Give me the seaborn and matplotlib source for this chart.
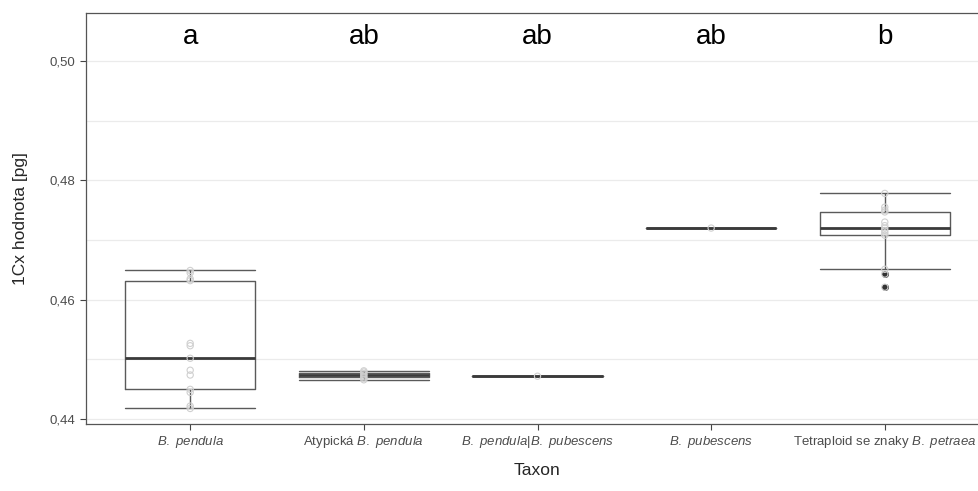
import matplotlib
matplotlib.use('Agg')
import matplotlib.pyplot as plt
from matplotlib.ticker import FuncFormatter, MultipleLocator
import seaborn as sns
import pandas as pd

# taxa and 1Cx values
taxa = ['B. pendula', 'Atypicka B. pendula', 'B. pendula/B. pubescens',
        'B. pubescens', 'Tetraploid se znaky B. petraea']
tick_labels = [r'$\it{B.\ pendula}$',
               r'Atypická $\it{B.\ pendula}$',
               r'$\it{B.\ pendula}|\it{B.\ pubescens}$',
               r'$\it{B.\ pubescens}$',
               r'Tetraploid se znaky $\it{B.\ petraea}$']
letters = ['a', 'ab', 'ab', 'ab', 'b']

pendula = [0.4418, 0.4422, 0.4445, 0.4450, 0.4474, 0.4482, 0.4502,
           0.4523, 0.4527, 0.4632, 0.4635, 0.4645, 0.4649]
atypicka = [0.4466, 0.4469, 0.4471, 0.4474, 0.4476, 0.4479, 0.4481]
hybrid = [0.4472]
pubescens = [0.4720]
tetraploid = [0.4621, 0.4643, 0.4651, 0.4708, 0.4712, 0.4716, 0.4720,
              0.4724, 0.4730, 0.4747, 0.4750, 0.4755, 0.4778]

groups = [pendula, atypicka, hybrid, pubescens, tetraploid]
df = pd.DataFrame({
    'taxon': [t for t, g in zip(taxa, groups) for _ in g],
    'value': [v for g in groups for v in g],
})

sns.set_theme(style='white')
plt.rcParams['font.family'] = ['Liberation Sans', 'DejaVu Sans']
plt.rcParams['mathtext.fontset'] = 'custom'
plt.rcParams['mathtext.rm'] = 'Liberation Sans'
plt.rcParams['mathtext.it'] = 'Liberation Sans:italic'

fig = plt.figure(figsize=(9.79, 4.91), dpi=100)
ax = fig.add_axes([86 / 979, 1 - 424 / 491, 903 / 979, 411 / 491])

line_col = '#5a5a5a'
sns.boxplot(data=df, x='taxon', y='value', order=taxa, ax=ax, fill=False,
            color=line_col, width=0.75, linewidth=1.0,
            medianprops=dict(linewidth=2.0, color='#3a3a3a'),
            flierprops=dict(marker='o', markersize=4, markerfacecolor='#333333',
                            markeredgecolor='#333333'))
# full width whisker caps like the reference
for c in ax.containers:
    if hasattr(c, 'caps'):
        for cap in c.caps:
            xs = cap.get_xdata()
            mid = (xs[0] + xs[1]) / 2
            cap.set_xdata([mid - 0.375, mid + 0.375])

n_before = len(ax.collections)
sns.stripplot(data=df, x='taxon', y='value', order=taxa, ax=ax, jitter=False,
              color='#cccccc', size=4.5, zorder=4)
for coll in ax.collections[n_before:]:
    coll.set_facecolor('none')
    coll.set_edgecolor('#d0d0d0')
    coll.set_linewidth(0.8)

for i, lab in enumerate(letters):
    ax.text(i, 0.5028, lab, ha='center', va='baseline', fontsize=20, color='black')

ax.set_xlim(-0.6, 4.6)
ax.set_ylim(0.4392, 0.5080)
ax.yaxis.set_major_locator(MultipleLocator(0.02))
ax.yaxis.set_minor_locator(MultipleLocator(0.01))
ax.yaxis.set_major_formatter(FuncFormatter(lambda v, p: f'{v:.2f}'.replace('.', ',')))
ax.grid(True, axis='y', which='both', color='#ebebeb', linewidth=0.9)
ax.set_axisbelow(True)

ax.set_xticks(range(len(taxa)))
ax.set_xticklabels(tick_labels)
ax.tick_params(axis='both', which='major', length=4, width=0.8, color='#444444',
               labelsize=9.5, labelcolor='#4d4d4d', direction='out',
               bottom=True, left=True)
ax.tick_params(axis='y', which='minor', length=0)

for s in ax.spines.values():
    s.set_color('#555555')
    s.set_linewidth(0.9)

ax.set_xlabel('Taxon', fontsize=12.5, labelpad=9)
ax.set_ylabel('1Cx hodnota [pg]', fontsize=12.5, labelpad=16)

fig.savefig('out.png', dpi=100)
